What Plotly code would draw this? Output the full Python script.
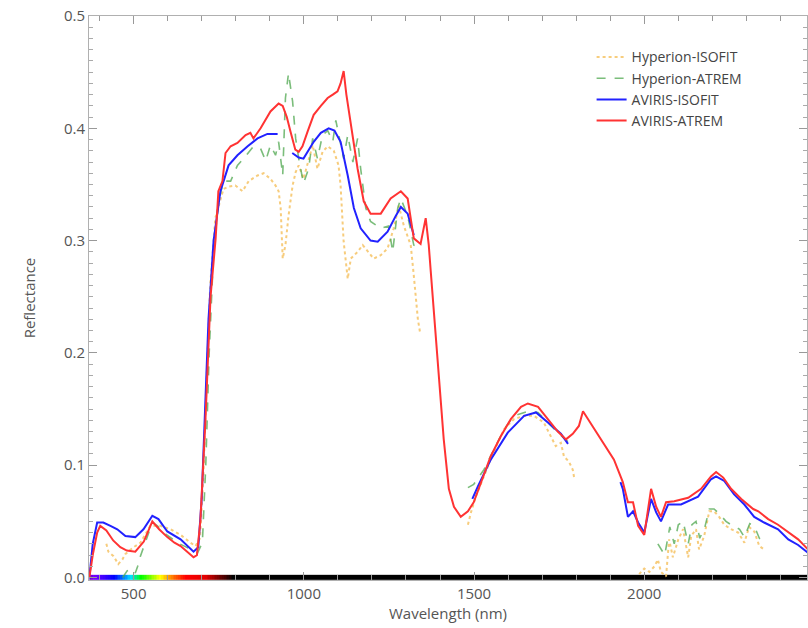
import plotly.graph_objects as go

# ---------------- data ----------------
hyp_isofit_wl = [420, 426, 441, 455, 467, 476, 500, 520, 549, 579, 608, 638, 667, 682, 695, 705, 715, 725, 740,
                 764, 779, 799, 820, 838, 864, 882, 902, 917, 926, 932, 938, 946, 955, 967, 976, 985, 999, 1014,
                 1026, 1040, 1055, 1070, 1088, 1102, 1108, 1117, 1129, 1138, 1158, 1173, 1188, 1205, 1226, 1246,
                 1264, 1279, 1294, 1314, 1323, 1335, 1341, None,
                 1482, 1491, 1505, 1529, 1558, 1588, 1617, 1647, 1676, 1705, 1726, 1740, 1755, 1764, 1779, 1790,
                 1794, None,
                 1985, 2000, 2015, 2030, 2040, 2049, 2064, 2073, 2084, 2100, 2114, 2129, 2138, 2152, 2161, 2176,
                 2191, 2205, 2220, 2235, 2255, 2276, 2294, 2308, 2323, 2338, 2352]
hyp_isofit_refl = [0.030, 0.023, 0.019, 0.012, 0.016, 0.021, 0.027, 0.031, 0.046, 0.046, 0.043, 0.038, 0.031,
                   0.028, 0.035, 0.090, 0.180, 0.260, 0.320, 0.346, 0.348, 0.349, 0.344, 0.353, 0.358, 0.360,
                   0.355, 0.349, 0.344, 0.329, 0.284, 0.296, 0.322, 0.349, 0.361, 0.367, 0.355, 0.373, 0.385,
                   0.364, 0.379, 0.384, 0.380, 0.367, 0.349, 0.299, 0.266, 0.284, 0.290, 0.296, 0.290, 0.284,
                   0.287, 0.293, 0.311, 0.331, 0.313, 0.296, 0.269, 0.230, 0.219, None,
                   0.047, 0.058, 0.072, 0.090, 0.112, 0.132, 0.141, 0.144, 0.144, 0.138, 0.125, 0.117, 0.120,
                   0.108, 0.103, 0.096, 0.089, None,
                   0.003, 0.008, 0.005, 0.010, 0.016, 0.005, 0.001, 0.034, 0.018, 0.034, 0.043, 0.018, 0.037,
                   0.043, 0.025, 0.037, 0.059, 0.059, 0.054, 0.047, 0.043, 0.040, 0.031, 0.045, 0.041, 0.028,
                   0.025]

hyp_atrem_wl = [468, 481, 496, 505, 512, 520, 541, 555, 570, 588, 629, 667, 688, 702, 712, 722, 735, 750, 764,
                785, 805, 823, 838, 852, 873, 888, 902, 917, 926, 938, 946, 955, 967, 976, 985, 999, 1014, 1026,
                1040, 1055, 1070, 1085, 1094, 1108, 1117, 1129, 1144, 1158, 1167, 1182, 1196, 1226, 1249, 1261,
                1276, 1285, 1305, 1323, 1338, None,
                1482, 1499, 1529, 1558, 1588, 1617, 1658, 1688, 1717, 1746, 1776, 1794, None,
                2040, 2060, 2075, 2088, 2100, 2114, 2129, 2140, 2152, 2163, 2178, 2191, 2205, 2220, 2240, 2260,
                2280, 2294, 2310, 2323, 2338, 2352]
hyp_atrem_refl = [0.000, 0.006, 0.008, 0.004, 0.010, 0.019, 0.037, 0.049, 0.046, 0.040, 0.031, 0.025, 0.022,
                  0.031, 0.100, 0.200, 0.290, 0.335, 0.353, 0.353, 0.367, 0.373, 0.379, 0.384, 0.382, 0.371,
                  0.385, 0.376, 0.388, 0.358, 0.427, 0.449, 0.424, 0.391, 0.373, 0.351, 0.364, 0.391, 0.373,
                  0.394, 0.398, 0.388, 0.407, 0.385, 0.373, 0.394, 0.370, 0.391, 0.364, 0.329, 0.317, 0.311,
                  0.313, 0.290, 0.329, 0.3375, 0.322, 0.296, 0.293, None,
                  0.080, 0.083, 0.096, 0.114, 0.132, 0.144, 0.148, 0.147, 0.138, 0.129, 0.121, 0.126, None,
                  0.030, 0.020, 0.045, 0.030, 0.047, 0.050, 0.030, 0.047, 0.050, 0.035, 0.045, 0.061, 0.061,
                  0.057, 0.050, 0.046, 0.043, 0.036, 0.048, 0.046, 0.035, 0.028]

av_isofit_wl = [370, 380, 393, 411, 432, 452, 476, 505, 529, 555, 573, 599, 638, 676, 690, 700, 710, 720, 735,
                755, 779, 805, 835, 864, 893, 923, None,
                966, 985, 999, 1014, 1029, 1050, 1073, 1090, 1108, 1129, 1147, 1167, 1196, 1217, 1246, 1270,
                1285, 1305, 1323, None,
                1495, 1511, 1549, 1599, 1647, 1682, 1717, 1755, 1776, None,
                1930, 1937, 1952, 1967, 1982, 2000, 2020, 2035, 2049, 2070, 2108, 2158, 2196, 2211, 2235, 2264,
                2294, 2323, 2352, 2393, 2423, 2452, 2481]
av_isofit_refl = [0.000, 0.030, 0.049, 0.049, 0.046, 0.043, 0.037, 0.036, 0.043, 0.055, 0.052, 0.041, 0.034,
                  0.023, 0.027, 0.070, 0.150, 0.230, 0.300, 0.344, 0.367, 0.376, 0.384, 0.391, 0.395, 0.395, None,
                  0.378, 0.374, 0.373, 0.380, 0.388, 0.396, 0.400, 0.398, 0.388, 0.358, 0.329, 0.311, 0.300,
                  0.299, 0.308, 0.322, 0.330, 0.324, 0.305, None,
                  0.070, 0.081, 0.105, 0.129, 0.144, 0.147, 0.138, 0.128, 0.119, None,
                  0.085, 0.079, 0.054, 0.059, 0.049, 0.040, 0.070, 0.058, 0.050, 0.065, 0.065, 0.072, 0.0875,
                  0.090, 0.086, 0.074, 0.065, 0.054, 0.049, 0.043, 0.034, 0.029, 0.022]

av_atrem_wl = [370, 380, 393, 402, 420, 440, 461, 480, 505, 530, 555, 575, 599, 620, 638, 660, 676, 686, 696,
               711, 726, 741, 749, 761, 770, 785, 805, 829, 843, 852, 873, 902, 926, 938, 950, 961, 975, 985, 996,
               1011, 1029, 1050, 1070, 1085, 1099, 1108, 1117, 1125, 1138, 1158, 1176, 1196, 1226, 1255, 1285,
               1305, 1323, 1343, 1358, 1367, 1373, 1393, 1411, 1426, 1441, 1461, 1482, 1499, 1520, 1549, 1579,
               1608, 1638, 1658, 1688, 1717, 1746, 1770, 1790, 1808, 1820, 1835, 1873, 1911, 1937, 1952, 1967,
               1982, 2000, 2010, 2020, 2035, 2049, 2064, 2088, 2129, 2167, 2196, 2211, 2232, 2255, 2285, 2320,
               2335, 2364, 2393, 2423, 2452, 2481]
av_atrem_refl = [0.000, 0.020, 0.040, 0.046, 0.042, 0.033, 0.027, 0.024, 0.023, 0.032, 0.050, 0.043, 0.036,
                 0.031, 0.028, 0.022, 0.018, 0.020, 0.050, 0.140, 0.250, 0.302, 0.344, 0.353, 0.378, 0.384,
                 0.387, 0.394, 0.396, 0.391, 0.400, 0.415, 0.422, 0.420, 0.410, 0.397, 0.381, 0.379, 0.384,
                 0.397, 0.412, 0.420, 0.427, 0.430, 0.433, 0.440, 0.451, 0.430, 0.403, 0.364, 0.335, 0.324,
                 0.324, 0.3375, 0.344, 0.3375, 0.302, 0.297, 0.320, 0.296, 0.272, 0.190, 0.123, 0.079, 0.063,
                 0.054, 0.059, 0.067, 0.085, 0.108, 0.126, 0.141, 0.152, 0.155, 0.152, 0.141, 0.130, 0.123,
                 0.128, 0.135, 0.148, 0.141, 0.123, 0.105, 0.085, 0.067, 0.067, 0.046, 0.038, 0.060, 0.079,
                 0.063, 0.054, 0.067, 0.068, 0.071, 0.079, 0.090, 0.094, 0.089, 0.079, 0.070, 0.061, 0.059,
                 0.052, 0.047, 0.040, 0.034, 0.025]

series_names = ["Hyperion-ISOFIT", "Hyperion-ATREM", "AVIRIS-ISOFIT", "AVIRIS-ATREM"]

# spectrum strip along the wavelength axis (visible colours, black beyond)
strip_wl = list(range(370, 2481, 5))

x_range = [369, 2478]
y_range = [-0.0022, 0.5]

fig = go.Figure()

# spectrum bar (heatmap with brick edges)
edges = strip_wl + [strip_wl[-1] + 5]
lo, hi = 370, 2485
def nrm(v):
    return (v - lo) / (hi - lo)
spec_scale = [
    [0.0, "#6a00c8"], [nrm(380), "#7a00ff"], [nrm(440), "#0000ff"], [nrm(490), "#00e0ff"],
    [nrm(520), "#00ff00"], [nrm(575), "#ffff00"], [nrm(610), "#ff8000"], [nrm(650), "#ff0000"],
    [nrm(710), "#e00000"], [nrm(790), "#000000"], [1.0, "#000000"],
]
fig.add_trace(go.Heatmap(
    x=edges, y=[-0.0022, 0.0024], z=[strip_wl], zmin=lo, zmax=hi,
    colorscale=spec_scale, showscale=False, hoverinfo="skip", showlegend=False,
))

fig.add_trace(go.Scatter(x=hyp_isofit_wl, y=hyp_isofit_refl, mode="lines", name=series_names[0],
                         line=dict(color="#f6c466", width=2, dash="dot"), opacity=0.85, connectgaps=False))
fig.add_trace(go.Scatter(x=hyp_atrem_wl, y=hyp_atrem_refl, mode="lines", name=series_names[1],
                         line=dict(color="#4fa84f", width=1.6, dash="dash"), opacity=0.75, connectgaps=False))
fig.add_trace(go.Scatter(x=av_isofit_wl, y=av_isofit_refl, mode="lines", name=series_names[2],
                         line=dict(color="#2222ff", width=2), connectgaps=False))
fig.add_trace(go.Scatter(x=av_atrem_wl, y=av_atrem_refl, mode="lines", name=series_names[3],
                         line=dict(color="#ff3333", width=2), connectgaps=False))

axis_font = dict(family="Open Sans, DejaVu Sans, sans-serif", size=15, color="#555555")

fig.update_layout(
    width=808, height=628,
    margin=dict(l=89, r=1, t=16, b=48),
    paper_bgcolor="white", plot_bgcolor="white",
    font=dict(family="Open Sans, DejaVu Sans, sans-serif", color="#444444"),
    legend=dict(x=0.70, y=0.955, xanchor="left", yanchor="top", bgcolor="rgba(0,0,0,0)",
                font=dict(family="Open Sans, DejaVu Sans, sans-serif", size=14, color="#444444"),
                tracegroupgap=0, itemwidth=30),
    xaxis=dict(range=x_range, showgrid=False, zeroline=False,
               showline=True, linecolor="#b0b0b0", linewidth=1, mirror="allticks",
               ticks="inside", ticklen=8, tickcolor="#999999", tick0=0, dtick=500,
               minor=dict(dtick=100, ticks="inside", ticklen=5, tickcolor="#999999"),
               tickfont=axis_font,
               title=dict(text="Wavelength (nm)", font=axis_font, standoff=6)),
    yaxis=dict(range=y_range, showgrid=False, zeroline=False,
               showline=True, linecolor="#b0b0b0", linewidth=1, mirror="allticks",
               ticks="inside", ticklen=8, tickcolor="#999999", tick0=0, dtick=0.1,
               tickformat=".1f",
               minor=dict(dtick=0.01, ticks="inside", ticklen=4, tickcolor="#aaaaaa"),
               tickfont=axis_font,
               title=dict(text="Reflectance", font=axis_font, standoff=24)),
)

fig.write_html("out.html", config={"displayModeBar": False},
               post_script="document.body.style.margin='0';document.body.style.overflow='hidden';")
